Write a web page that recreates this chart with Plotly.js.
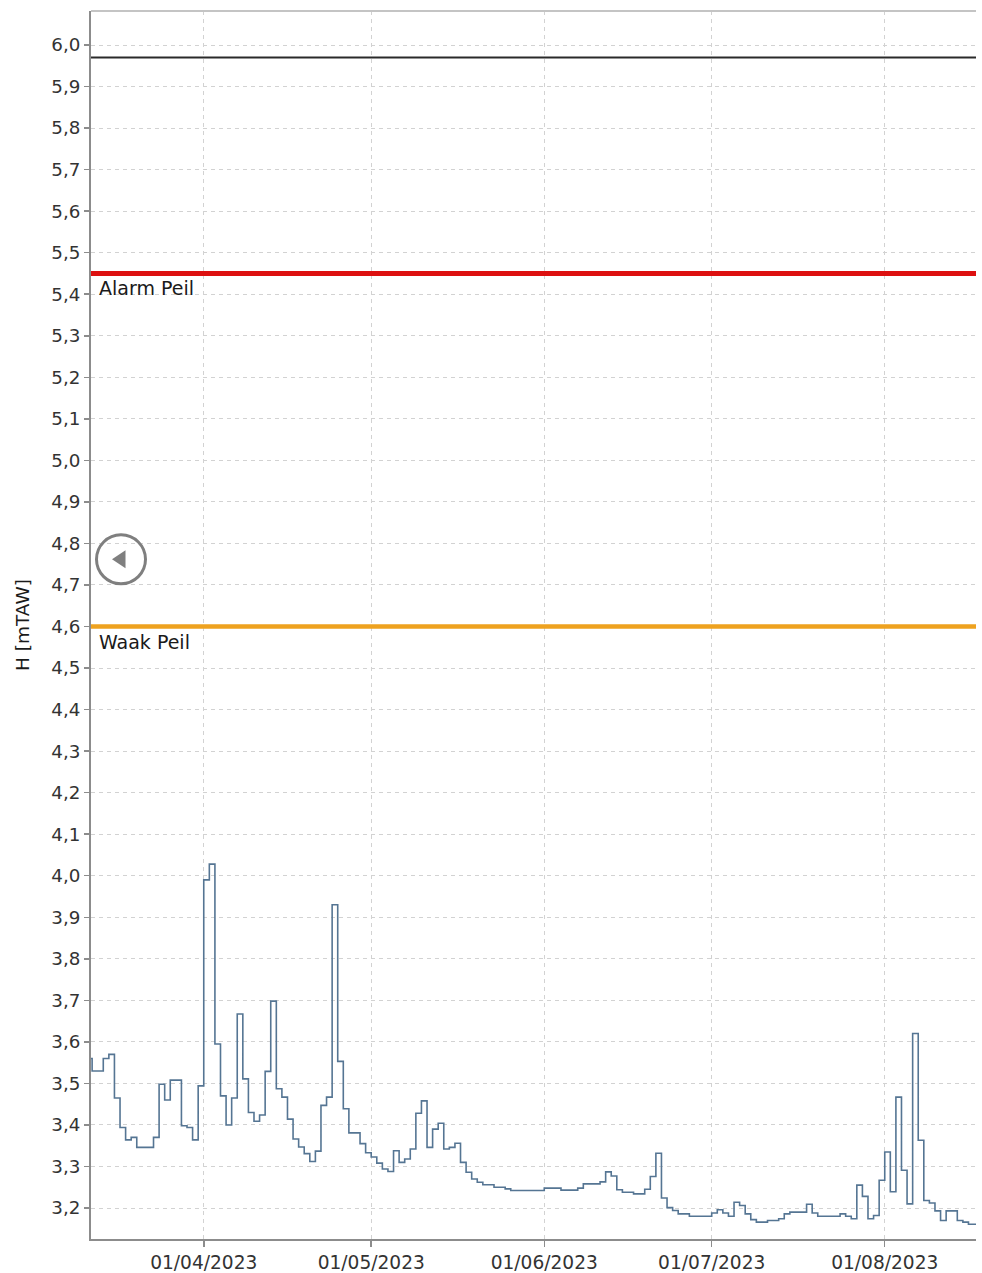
<!DOCTYPE html>
<html>
<head>
<meta charset="utf-8">
<script src="https://cdn.plot.ly/plotly-3.0.1.min.js"></script>
<style>
  html, body { margin: 0; padding: 0; background: #ffffff; }
  #chart { width: 982px; height: 1273px; }
</style>
</head>
<body>
<div id="chart"></div>
<script>
// ---- Data (water level H [mTAW], daily steps) ----
const seriesStart = '2023-03-11';
const levelsMarch = [3.56, 3.53, 3.53, 3.56, 3.57, 3.465, 3.394, 3.364, 3.37, 3.346, 3.346,
  3.346, 3.37, 3.498, 3.46, 3.508, 3.508, 3.398, 3.394, 3.364, 3.494];
const levelsApril = [3.99, 4.028, 3.595, 3.47, 3.40, 3.465, 3.667, 3.511, 3.43, 3.409,
  3.424, 3.529, 3.698, 3.487, 3.467, 3.414, 3.366, 3.347, 3.331, 3.312,
  3.337, 3.447, 3.467, 3.93, 3.553, 3.439, 3.381, 3.381, 3.355, 3.333];
const levelsMay = [3.323, 3.308, 3.294, 3.288, 3.338, 3.31, 3.318, 3.342, 3.428, 3.458,
  3.346, 3.39, 3.404, 3.342, 3.346, 3.356, 3.31, 3.286, 3.27, 3.262,
  3.256, 3.256, 3.25, 3.25, 3.246, 3.242, 3.242, 3.242, 3.242, 3.242, 3.242];
const levelsJune = [3.248, 3.248, 3.248, 3.243, 3.243, 3.243, 3.248, 3.258, 3.258, 3.258,
  3.263, 3.287, 3.277, 3.244, 3.238, 3.238, 3.234, 3.234, 3.245, 3.276,
  3.332, 3.224, 3.201, 3.194, 3.186, 3.186, 3.18, 3.18, 3.18, 3.18];
const levelsJuly = [3.188, 3.196, 3.188, 3.18, 3.214, 3.206, 3.186, 3.172, 3.166, 3.166,
  3.17, 3.17, 3.174, 3.186, 3.19, 3.19, 3.19, 3.209, 3.188, 3.18,
  3.18, 3.18, 3.18, 3.186, 3.18, 3.174, 3.255, 3.228, 3.174, 3.182, 3.267];
const levelsAugust = [3.335, 3.239, 3.467, 3.291, 3.21, 3.62, 3.363, 3.218, 3.212, 3.193,
  3.17, 3.193, 3.193, 3.17, 3.166, 3.161, 3.161, 3.161];

// Reference levels
const topLevel = 5.97;
const alarmLevel = 5.45;
const waakLevel = 4.60;
const alarmLabel = 'Alarm Peil';
const waakLabel = 'Waak Peil';
const yTitle = 'H [mTAW]';
const xRange = ['2023-03-11 19:12', '2023-08-17 08:24'];
const yRange = [3.1254, 6.0819];

// ---- Build series ----
const levels = [].concat(levelsMarch, levelsApril, levelsMay, levelsJune, levelsJuly, levelsAugust);
const dates = [];
{
  const d0 = new Date(seriesStart + 'T00:00:00Z');
  for (let i = 0; i < levels.length; i++) {
    const d = new Date(d0.getTime() + i * 86400000);
    dates.push(d.toISOString().slice(0, 10));
  }
}

const FONT = 'DejaVu Sans, Liberation Sans, Arial, sans-serif';

function refLine(level, color, width) {
  return {
    x: [xRange[0], xRange[1]], y: [level, level],
    type: 'scatter', mode: 'lines', hoverinfo: 'skip', showlegend: false,
    line: { color: color, width: width }, cliponaxis: true
  };
}

const traces = [
  refLine(topLevel, '#2a2a2a', 2),
  refLine(alarmLevel, '#dd1010', 5),
  refLine(waakLevel, '#eea21f', 4.5),
  {
    x: dates, y: levels, type: 'scatter', mode: 'lines',
    line: { shape: 'hv', color: '#557593', width: 1.6 },
    showlegend: false, name: 'H'
  }
];

const layout = {
  width: 982, height: 1273,
  margin: { l: 91, r: 6, t: 11, b: 34 },
  paper_bgcolor: '#ffffff', plot_bgcolor: '#ffffff',
  separators: ',.',
  showlegend: false,
  font: { family: FONT, size: 18, color: '#333333' },
  xaxis: {
    type: 'date', range: xRange,
    tick0: '2023-04-01', dtick: 'M1', tickformat: '%d/%m/%Y',
    ticks: 'outside', ticklen: 6, tickcolor: '#8c8c8c', tickwidth: 1.5,
    showline: true, linecolor: '#8c8c8c', linewidth: 2,
    showgrid: true, gridcolor: '#d2d2d2', gridwidth: 1, griddash: '4px,4px',
    zeroline: false,
    tickfont: { family: FONT, size: 18.6, color: '#333333' }
  },
  yaxis: {
    range: yRange, tick0: 3.2, dtick: 0.1, tickformat: '.1f',
    ticks: 'outside', ticklen: 5, tickcolor: '#8c8c8c', tickwidth: 1.5,
    showline: true, linecolor: '#8c8c8c', linewidth: 2,
    showgrid: true, gridcolor: '#d2d2d2', gridwidth: 1, griddash: '4px,4px',
    zeroline: false,
    tickfont: { family: FONT, size: 18.3, color: '#333333' },
    title: { text: yTitle, font: { family: FONT, size: 18.5, color: '#1a1a1a' }, standoff: 17 }
  },
  shapes: [
    { type: 'line', xref: 'paper', yref: 'paper', x0: 0, x1: 1, y0: 1, y1: 1,
      line: { color: '#c4c4c4', width: 2 } },
    { type: 'circle', xref: 'paper', yref: 'paper', xsizemode: 'pixel', ysizemode: 'pixel',
      xanchor: 0.0339, yanchor: 0.5535, x0: -24.5, x1: 24.5, y0: -24.5, y1: 24.5,
      line: { color: '#7f7f7f', width: 3 }, fillcolor: 'rgba(255,255,255,0)' },
    { type: 'path', xref: 'paper', yref: 'paper', xsizemode: 'pixel', ysizemode: 'pixel',
      xanchor: 0.0339, yanchor: 0.5535, path: 'M -9 0 L 4.5 -9 L 4.5 9 Z',
      line: { color: '#7f7f7f', width: 0 }, fillcolor: '#7f7f7f' }
  ],
  annotations: [
    { text: alarmLabel, xref: 'paper', x: 0, xanchor: 'left', xshift: 6,
      yref: 'y', y: alarmLevel, yanchor: 'top', yshift: -2, showarrow: false,
      font: { family: FONT, size: 19, color: '#1a1a1a' } },
    { text: waakLabel, xref: 'paper', x: 0, xanchor: 'left', xshift: 6,
      yref: 'y', y: waakLevel, yanchor: 'top', yshift: -2, showarrow: false,
      font: { family: FONT, size: 19, color: '#1a1a1a' } }
  ]
};

Plotly.newPlot('chart', traces, layout, { displayModeBar: false, staticPlot: true });
</script>
</body>
</html>
